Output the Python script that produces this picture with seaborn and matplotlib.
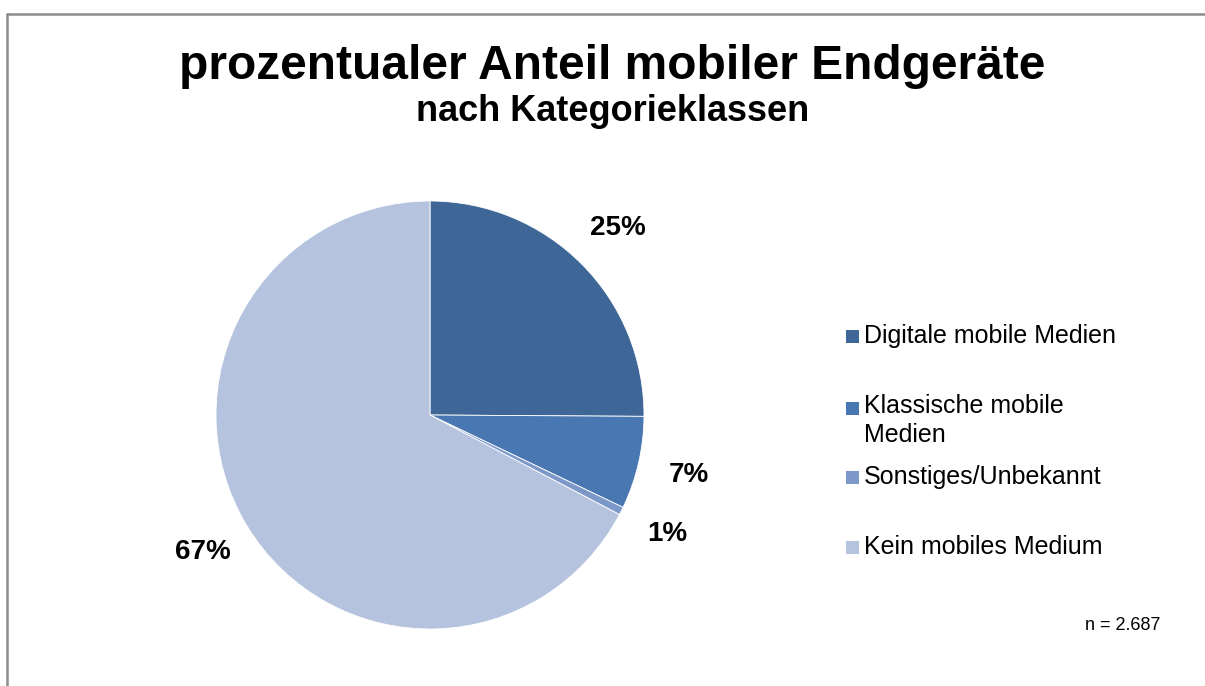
import numpy as np
import matplotlib
matplotlib.use("Agg")
import matplotlib.pyplot as plt
import seaborn as sns
from matplotlib.lines import Line2D
from matplotlib.patches import Rectangle

# Chart data
categories = ["Digitale mobile Medien", "Klassische mobile\nMedien",
              "Sonstiges/Unbekannt", "Kein mobiles Medium"]
shares = [25.1, 7.0, 0.6, 67.3]
colors = ["#3e6697", "#4977b1", "#7b98c9", "#b6c3de"]
title = "prozentualer Anteil mobiler Endgeräte"
subtitle = "nach Kategorieklassen"
note = "n = 2.687"

sns.set_theme(style="white")
plt.rcParams['font.family'] = ['Liberation Sans', 'DejaVu Sans']
plt.rcParams['text.color'] = 'black'

fig = plt.figure(figsize=(12.05, 6.86), dpi=100)
fig.patch.set_facecolor("white")

# Pie axes, placed so the circle sits left of center
ax = fig.add_axes([216 / 1205, 57 / 686, 428 / 1205, 428 / 686])
wedges, texts, autotexts = ax.pie(
    shares, colors=colors, startangle=90, counterclock=False,
    autopct='%1.0f%%', pctdistance=1.24, radius=1,
    wedgeprops=dict(edgecolor="white", linewidth=0.6),
    textprops=dict(fontsize=20, fontweight="bold", color="black"))
ax.set_xlim(-1, 1)
ax.set_ylim(-1, 1)
ax.set_aspect("equal")
ax.axis("off")

# Titles
fig.text(0.508, 0.903, title, ha="center", va="center",
         fontsize=34.5, fontweight="bold")
fig.text(0.508, 0.838, subtitle, ha="center", va="center",
         fontsize=26, fontweight="bold")

# Legend drawn item by item (Excel-style spacing)
legend_y = [336, 408, 477, 547]
for lab, col, yy in zip(categories, colors, legend_y):
    y = 1 - yy / 686
    fig.patches.append(Rectangle((846 / 1205, y - 7 / 686), 13 / 1205, 13 / 686,
                                 transform=fig.transFigure, facecolor=col,
                                 edgecolor="none"))
    if "\n" in lab:
        fig.text(864 / 1205, y + 14 / 686, lab, ha="left", va="top",
                 fontsize=18, linespacing=1.25)
    else:
        fig.text(864 / 1205, y, lab, ha="left", va="center", fontsize=18)

fig.text(1123 / 1205, 1 - 625 / 686, note, ha="center", va="center", fontsize=13)

# Frame lines (left and top only visible in the crop)
fig.add_artist(Line2D([7 / 1205, 7 / 1205], [0, 1 - 14 / 686],
                      transform=fig.transFigure, color="#8c8c8c", linewidth=1.8))
fig.add_artist(Line2D([7 / 1205, 1], [1 - 14 / 686, 1 - 14 / 686],
                      transform=fig.transFigure, color="#8c8c8c", linewidth=1.8))

fig.savefig("out.png", dpi=100, facecolor="white")
